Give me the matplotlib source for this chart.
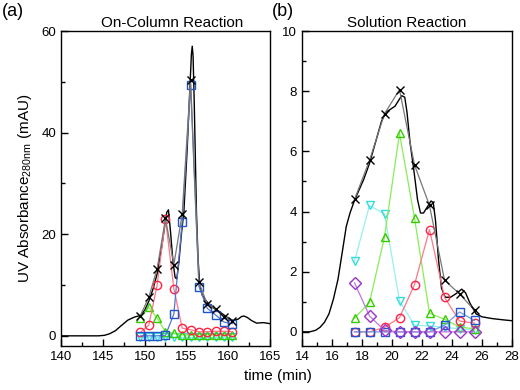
import matplotlib
matplotlib.use('Agg')
import matplotlib.pyplot as plt
from matplotlib.ticker import MultipleLocator

plt.rcParams['font.family'] = ['Liberation Sans', 'DejaVu Sans']

# (a) on-column reaction: fractions
t_a = [149.5, 150.5, 151.5, 152.5, 153.5, 154.5, 155.5, 156.5, 157.5, 158.5, 159.5, 160.5]
total_a = [4.0, 7.6, 13.2, 23.1, 14.0, 24.0, 50.3, 10.5, 6.2, 5.3, 3.8, 3.0]
red_a = [0.7, 2.1, 10.0, 23.0, 9.3, 1.5, 1.2, 0.8, 0.8, 0.9, 0.9, 0.8]
green_a = [3.6, 5.6, 3.5, 0.8, 0.5, 0.2, 0.2, 0.2, 0.2, 0.2, 0.2, 0.2]
blue_a = [0.0, 0.0, 0.0, 0.1, 4.3, 22.5, 49.3, 9.7, 5.4, 4.1, 2.7, 2.4]
cyan_a = [-0.2, -0.2, -0.2, -0.2, -0.2, -0.2, -0.2, -0.2, -0.2, -0.2, -0.2, -0.2]

# (a) UV trace
trace_a_t = [140, 144.5, 145.2, 145.8, 146.5, 147.2, 148.0, 148.8, 149.5, 150.0, 150.5,
             151.0, 151.5, 152.0, 152.4, 152.65, 152.85, 153.1, 153.4, 153.65, 153.85,
             154.1, 154.4, 154.7, 155.1, 155.45, 155.6, 155.7, 155.8, 155.95, 156.2, 156.4,
             156.6, 156.9, 157.3, 158.0, 159.0, 160.0, 160.6, 161.2, 161.6, 161.9, 162.3,
             162.8, 163.4, 164.2, 165.0]
trace_a_v = [0.0, 0.0, 0.1, 0.4, 1.0, 2.0, 3.1, 3.7, 4.0, 5.0, 6.8, 9.2, 12.2, 17.0, 21.5,
             24.3, 24.8, 20.5, 14.5, 11.5, 11.2, 14.5, 20.0, 24.5, 37.0, 50.0, 55.5, 57.0,
             55.0, 45.0, 24.5, 15.0, 10.0, 8.0, 7.0, 5.7, 4.7, 3.5, 3.0, 3.3, 3.8, 3.9, 3.6,
             3.0, 2.5, 2.6, 2.4]

# (b) solution reaction: fractions
t_b = [17.5, 18.5, 19.5, 20.5, 21.5, 22.5, 23.5, 24.5, 25.5]
total_b = [4.4, 5.7, 7.25, 8.05, 5.55, 4.2, 1.72, 1.26, 0.72]
green_b = [0.45, 0.98, 3.15, 6.6, 3.78, 0.62, 0.42, 0.16, 0.1]
cyan_b = [2.35, 4.2, 3.92, 1.03, 0.22, 0.2, 0.15, 0.1, 0.05]
red_b = [0.0, 0.0, 0.15, 0.47, 1.57, 3.4, 1.15, 0.36, 0.29]
blue_b = [0.0, 0.0, 0.0, 0.0, 0.0, 0.0, 0.22, 0.66, 0.38]
purple_b = [1.63, 0.53, 0.05, 0.0, 0.0, 0.0, 0.0, 0.0, 0.0]

# (b) UV trace
trace_b_t = [14, 14.5, 14.9, 15.2, 15.5, 15.8, 16.1, 16.4, 16.7, 16.95, 17.2, 17.45, 17.7,
             18.1, 18.5, 18.9, 19.3, 19.6, 19.9, 20.2, 20.45, 20.65, 20.85, 21.0, 21.2,
             21.45, 21.7, 21.9, 22.1, 22.35, 22.6, 22.75, 22.9, 23.1, 23.3, 23.55, 23.9,
             24.3, 24.65, 24.9, 25.2, 25.6, 26.0, 26.7, 27.4, 28]
trace_b_v = [0.0, 0.0, 0.05, 0.15, 0.32, 0.6, 1.1, 1.75, 2.7, 3.5, 3.95, 4.3, 4.6, 5.05,
             5.6, 6.3, 7.0, 7.3, 7.4, 7.5, 7.7, 7.85, 7.8, 7.3, 6.3, 5.4, 4.4, 3.95, 3.95,
             4.15, 4.35, 4.3, 3.7, 2.4, 1.45, 1.15, 1.15, 1.28, 1.42, 1.3, 0.95, 0.6, 0.5,
             0.44, 0.4, 0.37]

fig = plt.figure(figsize=(5.2, 3.9), dpi=100)
ax1 = fig.add_axes([61 / 520, 44 / 390, 209 / 520, 315 / 390])
ax2 = fig.add_axes([302 / 520, 44 / 390, 210 / 520, 315 / 390])


def series(ax, x, y, marker, mcol, lcol):
    ax.plot(x, y, '-', color=lcol, lw=0.9, marker=marker, ms=6, mfc='none',
            mec=mcol, mew=1.0)


# panel a
ax1.plot(trace_a_t, trace_a_v, color='black', lw=1.0)
series(ax1, t_a, cyan_a, 'v', '#33dddd', '#99eeee')
series(ax1, t_a, green_a, '^', '#33cc00', '#88ee55')
series(ax1, t_a, red_a, 'o', '#ff2244', '#ff7788')
series(ax1, t_a, blue_a, 's', '#2255cc', '#5577cc')
series(ax1, t_a, total_a, 'x', 'black', '#777777')
ax1.set_xlim(140, 165)
ax1.set_ylim(-2, 60)
ax1.xaxis.set_major_locator(MultipleLocator(5))
ax1.xaxis.set_minor_locator(MultipleLocator(2.5))
ax1.yaxis.set_major_locator(MultipleLocator(20))
ax1.yaxis.set_minor_locator(MultipleLocator(10))

# panel b
ax2.plot(trace_b_t, trace_b_v, color='black', lw=1.0)
series(ax2, t_b, cyan_b, 'v', '#33dddd', '#99eeee')
series(ax2, t_b, green_b, '^', '#33cc00', '#88ee55')
series(ax2, t_b, red_b, 'o', '#ff2244', '#ff7788')
series(ax2, t_b, blue_b, 's', '#2255cc', '#7799dd')
series(ax2, t_b, purple_b, 'D', '#9933cc', '#bb77dd')
series(ax2, t_b, total_b, 'x', 'black', '#777777')
ax2.set_xlim(14, 28)
ax2.set_ylim(-0.47, 10)
ax2.xaxis.set_major_locator(MultipleLocator(2))
ax2.xaxis.set_minor_locator(MultipleLocator(1))
ax2.yaxis.set_major_locator(MultipleLocator(2))
ax2.yaxis.set_minor_locator(MultipleLocator(1))

for ax in (ax1, ax2):
    ax.tick_params(which='both', direction='in', top=False, right=False, labelsize=9.5)
    ax.tick_params(which='major', length=5, width=1)
    ax.tick_params(which='minor', length=3, width=1)
    for s in ax.spines.values():
        s.set_linewidth(1.0)

ax1.set_title('On-Column Reaction', fontsize=11, pad=3, x=0.53)
ax2.set_title('Solution Reaction', fontsize=11, pad=3)
fig.text(0.004, 0.958, '(a)', fontsize=13)
fig.text(0.523, 0.958, '(b)', fontsize=13)
ax1.set_ylabel('UV Absorbance$_{\\mathregular{280nm}}$ (mAU)', fontsize=11, labelpad=5)
fig.text(0.535, 0.025, 'time (min)', fontsize=11, ha='center')

fig.savefig('out.png', dpi=100)
